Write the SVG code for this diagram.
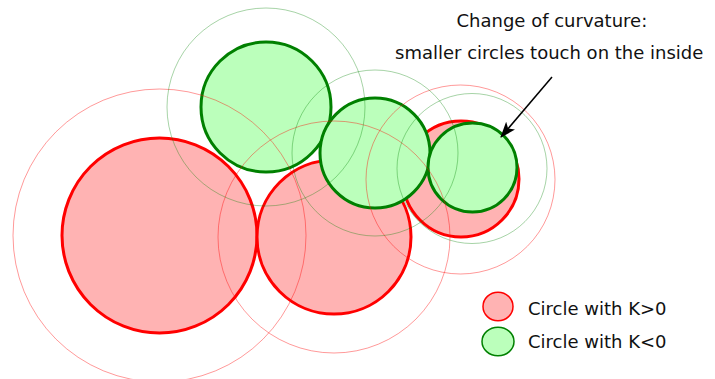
<svg xmlns="http://www.w3.org/2000/svg" width="715" height="379" viewBox="0 0 715 379">
<style>
.pos{fill:#ffb3b3;stroke:#ff0000;stroke-width:3}
.neg{fill:#bbffbb;stroke:#008000;stroke-width:3}
.fpos{fill:none;stroke:#ff0000;stroke-opacity:0.4;stroke-width:1}
.fneg{fill:none;stroke:#008000;stroke-opacity:0.35;stroke-width:1}
text{font-family:"DejaVu Sans","Liberation Sans",sans-serif;font-size:18px;fill:#111}
</style>
<defs>
<marker id="ah" viewBox="0 0 16 12" refX="15" refY="6" markerWidth="16" markerHeight="12" markerUnits="userSpaceOnUse" orient="auto">
<path d="M0,0 L16,6 L0,12 L4,6 Z" fill="#000"/>
</marker>
</defs>
<g id="circles">
<g id="p1"><circle class="pos" cx="159.5" cy="235.5" r="97.5"/></g>
<g id="p2"><circle class="pos" cx="334" cy="237" r="77"/></g>
<g id="n1"><circle class="neg" cx="266" cy="107" r="65"/></g>
<g id="p3"><circle class="pos" cx="461" cy="179" r="58"/></g>
<g id="n2"><circle class="neg" cx="375" cy="153" r="55"/></g>
<g id="n3"><circle class="neg" cx="472.5" cy="167.5" r="44.5"/></g>
</g>
<g id="osculating">
<circle class="fpos" cx="159.5" cy="235.5" r="146.5"/>
<circle class="fpos" cx="334" cy="237" r="116"/>
<circle class="fneg" cx="266" cy="107" r="99"/>
<circle class="fpos" cx="460.5" cy="179.5" r="94.5"/>
<circle class="fneg" cx="375" cy="153" r="83"/>
<circle class="fneg" cx="472" cy="168.5" r="75"/>
</g>
<g id="connectors">
<line x1="552" y1="77" x2="501" y2="137" stroke="#000" stroke-width="1.5" marker-end="url(#ah)"/>
</g>
<g id="annotation">
<text x="456.5" y="27">Change of curvature:</text>
<text x="395" y="59">smaller circles touch on the inside</text>
</g>
<g id="legend">
<ellipse cx="498" cy="306.5" rx="15" ry="14.3" fill="#ffb3b3" stroke="#ff0000" stroke-width="1.5"/>
<text x="528" y="315">Circle with K&gt;0</text>
<ellipse cx="498" cy="341.5" rx="16" ry="14.3" fill="#bbffbb" stroke="#008000" stroke-width="1.5"/>
<text x="528" y="348">Circle with K&lt;0</text>
</g>
</svg>
